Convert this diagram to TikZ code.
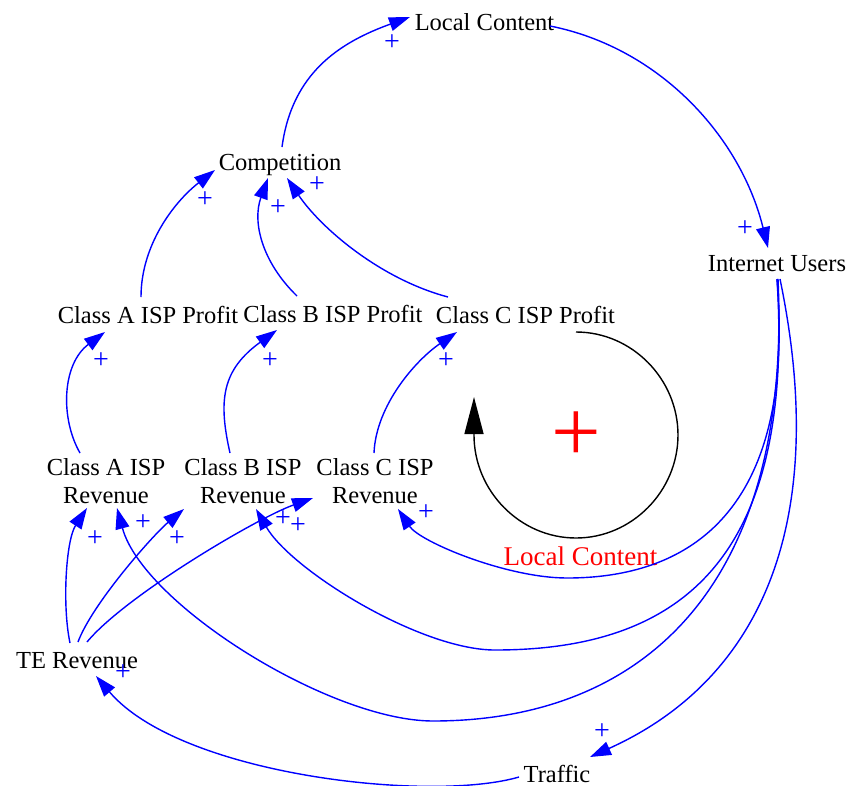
\documentclass[tikz,border=0pt]{standalone}
\usepackage{fontspec}
\setmainfont{Liberation Serif}
\usetikzlibrary{arrows.meta}
\begin{document}
\begin{tikzpicture}[x=1pt,y=-1pt,
  var/.style={inner sep=0pt, text height=17pt, text depth=5pt, font=\fontsize{24.5}{28}\selectfont},
  var2/.style={inner sep=0pt, align=center, font=\fontsize{24.5}{28}\selectfont},
  link/.style={draw=blue, line width=1.4pt, -{Triangle[length=21pt,width=14pt]}},
  pol/.style={text=blue, inner sep=0pt, font=\fontsize{28}{28}\selectfont},
  loopline/.style={draw=black, line width=1.4pt, -{Triangle[length=37pt,width=19pt]}},
]
\useasboundingbox (0,0) rectangle (849,785);

% variables
\node[var]  (lc)   at (484.5,24) {Local Content};
\node[var]  (comp) at (280,164)  {Competition};
\node[var]  (iu)   at (777,265)  {Internet Users};
\node[var]  (pA)   at (148,317)  {Class A ISP Profit};
\node[var]  (pB)   at (333,316)  {Class B ISP Profit};
\node[var]  (pC)   at (525.5,317) {Class C ISP Profit};
\node[var2] (rA)   at (106,481)  {Class A ISP\\Revenue};
\node[var2] (rB)   at (243,481)  {Class B ISP\\Revenue};
\node[var2] (rC)   at (375,481)  {Class C ISP\\Revenue};
\node[var]  (te)   at (77,662)   {TE Revenue};
\node[var, text depth=0pt] (tr) at (557,773.5) {Traffic};

% reinforcing loop marker
\node[inner sep=0pt, text height=18pt, text depth=0pt, text=red, font=\fontsize{27}{30}\selectfont] (loopname) at (580.5,556) {Local Content};
\node[text=red, inner sep=0pt, font=\fontsize{88}{88}\selectfont] (loopsign) at (576,437) {+};
\draw[loopline] (576,332) .. controls (632,332) and (678,379) .. (678,435)
  .. controls (678,491) and (632,538) .. (576,538)
  .. controls (520,538) and (474,491) .. (474,435) -- (474,397);

% causal links
\draw[link] ([shift={(2,-17)}]comp.center) .. controls (292,73) and (339.5,42.5) .. ([shift={(-74.5,-7)}]lc.center);
\draw[link] ([shift={(65.5,2)}]lc.center) .. controls (661,48) and (741,138) .. ([shift={(-9,-17)}]iu.center);
\draw[link] ([shift={(-7,-20)}]pA.center) .. controls (141,245) and (174,202) .. ([shift={(-65,6)}]comp.center);
\draw[link] ([shift={(-36,-20)}]pB.center) .. controls (262,262) and (252,222) .. ([shift={(-12,14)}]comp.center);
\draw[link] ([shift={(-77.5,-20)}]pC.center) .. controls (380,279) and (320.6,227.8) .. ([shift={(7,14)}]comp.center);
\draw[link] ([shift={(-26,-28)}]rA.center) .. controls (60,418) and (62,364) .. ([shift={(-43,15)}]pA.center);
\draw[link] ([shift={(-13,-28)}]rB.center) .. controls (218,400) and (222,370) .. ([shift={(-56,14)}]pB.center);
\draw[link] ([shift={(-1,-28)}]rC.center) .. controls (376,405) and (416,360) .. ([shift={(-68.5,15)}]pC.center);
\draw[link] ([shift={(0,14)}]iu.center) .. controls (795,500) and (700,578) .. (567,578)
  .. controls (507,578) and (420,542) .. ([shift={(23,28)}]rC.center);
\draw[link] ([shift={(0,14)}]iu.center) .. controls (795,560) and (680,650) .. (495,650)
  .. controls (420,650) and (291,570) .. ([shift={(13,28)}]rB.center);
\draw[link] ([shift={(1,14)}]iu.center) .. controls (792,590) and (640,721) .. (433,721)
  .. controls (330,721) and (143,604) .. ([shift={(11,27)}]rA.center);
\draw[link] ([shift={(3,14)}]iu.center) .. controls (830,520) and (763,679) .. ([shift={(33,-16.5)}]tr.center);
\draw[link] ([shift={(-38,3.5)}]tr.center) .. controls (430,803) and (180,775) .. ([shift={(19,14)}]te.center);
\draw[link] ([shift={(-7,-19)}]te.center) .. controls (62,605) and (66,540) .. ([shift={(-19,27)}]rA.center);
\draw[link] ([shift={(1,-20)}]te.center) .. controls (92,604) and (153,535) .. ([shift={(-59,28)}]rB.center);
\draw[link] ([shift={(10,-20)}]te.center) .. controls (125,596) and (257,518) .. ([shift={(-62,17)}]rC.center);

% link polarities
\node[pol] (s1)  at (392,43)  {+};
\node[pol] (s2)  at (745,229) {+};
\node[pol] (s3)  at (205,200) {+};
\node[pol] (s4)  at (278,208) {+};
\node[pol] (s5)  at (317,185) {+};
\node[pol] (s6)  at (101,361) {+};
\node[pol] (s7)  at (270,361) {+};
\node[pol] (s8)  at (446,361) {+};
\node[pol] (s9)  at (426,513) {+};
\node[pol] (s10) at (298,526) {+};
\node[pol] (s11) at (143,523) {+};
\node[pol] (s12) at (602,732) {+};
\node[pol] (s13) at (123,673) {+};
\node[pol] (s14) at (95,539)  {+};
\node[pol] (s15) at (177,539) {+};
\node[pol] (s16) at (283,519) {+};
\end{tikzpicture}
\end{document}
